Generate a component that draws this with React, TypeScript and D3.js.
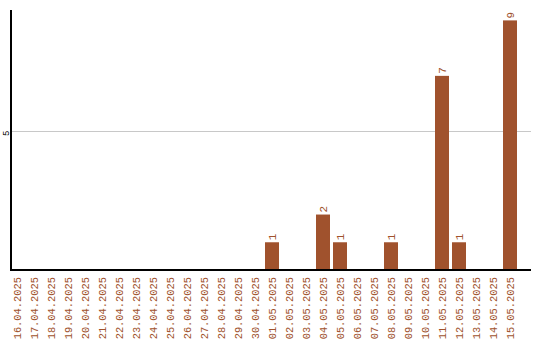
import React from "react";
import * as d3 from "d3";

// Daily counts, 16.04.2025 – 15.05.2025
const dates: string[] = [
  "16.04.2025", "17.04.2025", "18.04.2025", "19.04.2025", "20.04.2025",
  "21.04.2025", "22.04.2025", "23.04.2025", "24.04.2025", "25.04.2025",
  "26.04.2025", "27.04.2025", "28.04.2025", "29.04.2025", "30.04.2025",
  "01.05.2025", "02.05.2025", "03.05.2025", "04.05.2025", "05.05.2025",
  "06.05.2025", "07.05.2025", "08.05.2025", "09.05.2025", "10.05.2025",
  "11.05.2025", "12.05.2025", "13.05.2025", "14.05.2025", "15.05.2025",
];
const counts: number[] = [
  0, 0, 0, 0, 0, 0, 0, 0, 0, 0, 0, 0, 0, 0, 0,
  1, 0, 0, 2, 1, 0, 0, 1, 0, 0, 7, 1, 0, 0, 9,
];
const yTicks: number[] = [5];
const Y_MAX = 9.375;

const W = 540;
const H = 340;
const LEFT = 11;
const RIGHT = 531;
const TOP = 10;
const BASE = 270;
const COLOR = "#A0522D";
const FONT = "'Liberation Mono', 'DejaVu Sans Mono', monospace";

export default function App() {
  const x = d3.scaleBand<string>().domain(dates).range([10, 520]).padding(0);
  const y = d3.scaleLinear().domain([0, Y_MAX]).range([BASE, TOP]);
  const barW = x.bandwidth() - 3;

  const rows = dates.map((d, i) => ({ d, v: counts[i] }));

  return (
    <svg
      width={W}
      height={H}
      style={{ position: "absolute", left: 0, top: 0, display: "block", background: "#fff" }}
    >
      {/* grid lines */}
      {yTicks.map((t) => (
        <g key={t}>
          <line x1={LEFT} x2={RIGHT} y1={Math.round(y(t)) + 0.5} y2={Math.round(y(t)) + 0.5} stroke="#c8c8c8" strokeWidth={1} />
          <text
            transform={`translate(5.5,${y(t) + 2}) rotate(-90)`}
            textAnchor="middle"
            dy="0.35em"
            fontFamily={FONT}
            fontSize={9}
            fill="#000"
          >
            {t}
          </text>
        </g>
      ))}

      {/* bars */}
      {rows
        .filter((r) => r.v > 0)
        .map((r) => (
          <rect
            key={r.d}
            x={x(r.d)!}
            y={y(r.v)}
            width={barW}
            height={BASE - y(r.v)}
            fill={COLOR}
          />
        ))}

      {/* value labels */}
      {rows
        .filter((r) => r.v > 0)
        .map((r) => (
          <text
            key={"v" + r.d}
            transform={`translate(${x(r.d)! + barW / 2},${y(r.v) - 2}) rotate(-90)`}
            textAnchor="start"
            dy="0.35em"
            fontFamily={FONT}
            fontSize={11}
            fill={COLOR}
          >
            {r.v}
          </text>
        ))}

      {/* axes */}
      <line x1={LEFT} x2={LEFT} y1={TOP} y2={BASE + 1} stroke="#000" strokeWidth={2} />
      <line x1={LEFT - 1} x2={RIGHT} y1={BASE} y2={BASE} stroke="#000" strokeWidth={2} />

      {/* category labels */}
      {dates.map((d) => (
        <text
          key={"l" + d}
          transform={`translate(${x(d)! + barW / 2 + 0.5},${BASE + 7}) rotate(-90)`}
          textAnchor="end"
          dy="0.35em"
          fontFamily={FONT}
          fontSize={10.4}
          fill={COLOR}
        >
          {d}
        </text>
      ))}
    </svg>
  );
}
